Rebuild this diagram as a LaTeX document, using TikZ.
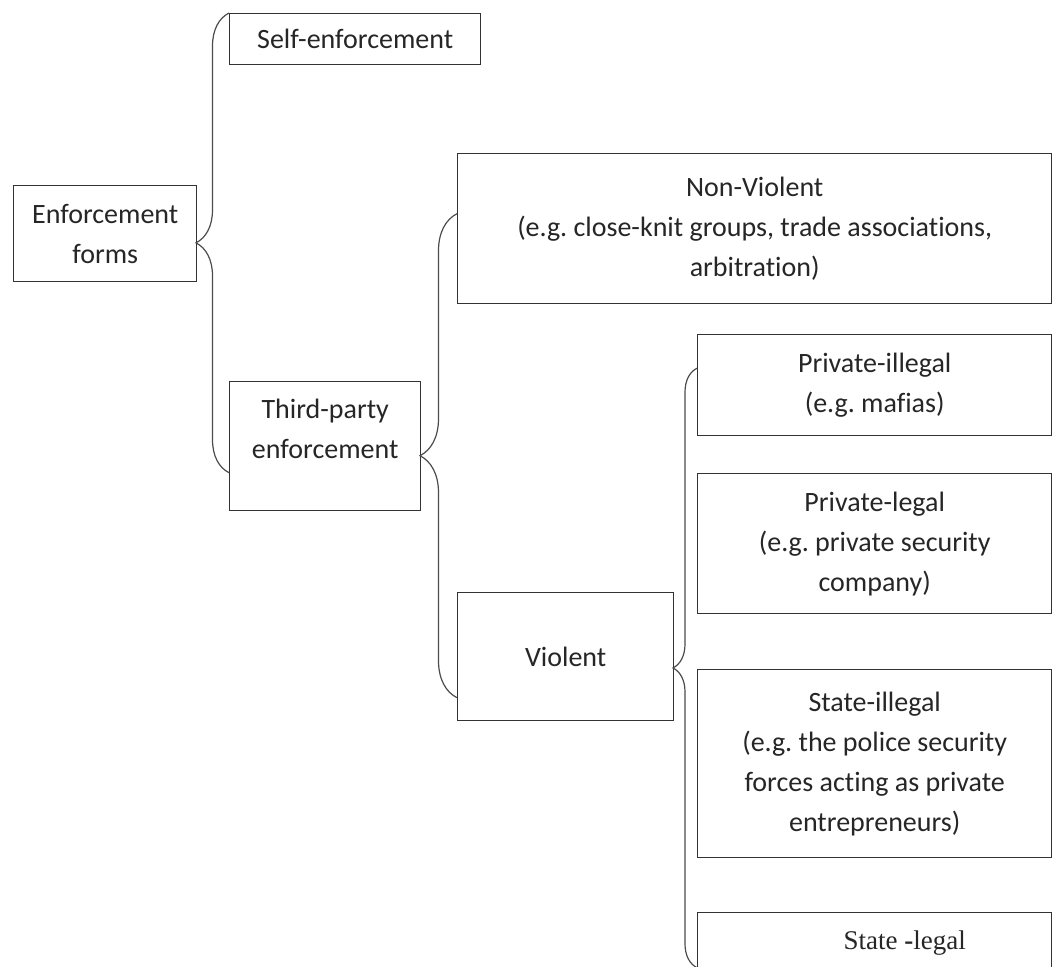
\documentclass[tikz,border=0pt]{standalone}
\usepackage{fontspec}
\setmainfont[Ligatures=NoCommon]{Carlito}
\newfontfamily\timesfont{Liberation Serif}
\usepackage{tikz}
\usetikzlibrary{positioning,decorations.pathreplacing}
\frenchspacing

\tikzset{
  box/.style={draw=black!80, line width=1.4pt, align=center, inner sep=0pt,
    anchor=north west, text=black!85, font=\fontsize{28}{40}\selectfont},
  curly/.style={draw=black!70, line width=1.2pt, decorate,
    decoration={brace, amplitude=#1}},
}

\begin{document}
\begin{tikzpicture}[x=1pt,y=-1pt]
        % Frame of the page
        \clip (0,0) rectangle (1053,967);
        \fill[white] (0,0) rectangle (1053,967);

        % Left column
        \node[box, minimum width=183pt, minimum height=96pt] (forms) at (13,185) {Enforcement\\forms};

        % Second column
        \node[box, minimum width=251pt, minimum height=51pt] (selfenf) at (229,13) {Self-enforcement};
        \node[box, minimum width=191pt, minimum height=129pt] (third) at (229,381) {Third-party\\enforcement\\[-6pt]\mbox{}};

        % Third column
        \node[box, minimum width=594pt, minimum height=150pt] (nonviol) at (457,153) {Non-Violent\\(e.g. close-knit groups, trade associations,\\arbitration)};
        \node[box, minimum width=216pt, minimum height=128pt] (viol) at (457,592) {Violent};

        % Right column
        \node[box, minimum width=354pt, minimum height=101pt] (privill) at (697,334) {Private-illegal\\(e.g. mafias)};
        \node[box, minimum width=354pt, minimum height=140pt] (privleg) at (697,473) {Private-legal\\(e.g. private security\\company)};
        \node[box, minimum width=354pt, minimum height=188pt] (stateill) at (697,669) {State-illegal\\(e.g. the police security\\forces acting as private\\entrepreneurs)};
        \node[box, minimum width=354pt, minimum height=60pt] (stateleg) at (697,912) {\fontsize{27}{30}\timesfont\hspace*{60pt}State \textbf{-}legal};

        % Braces
        \draw[curly=33pt] ([yshift=-26.5pt]third.west) -- (selfenf.north west);
        \draw[curly=37pt] ([yshift=-41pt]viol.west) -- ([yshift=15pt]nonviol.west);
        \draw[curly=24pt] ([yshift=-582.5pt]privill.west) -- ([yshift=17pt]privill.west);

    \end{tikzpicture}
\end{document}
